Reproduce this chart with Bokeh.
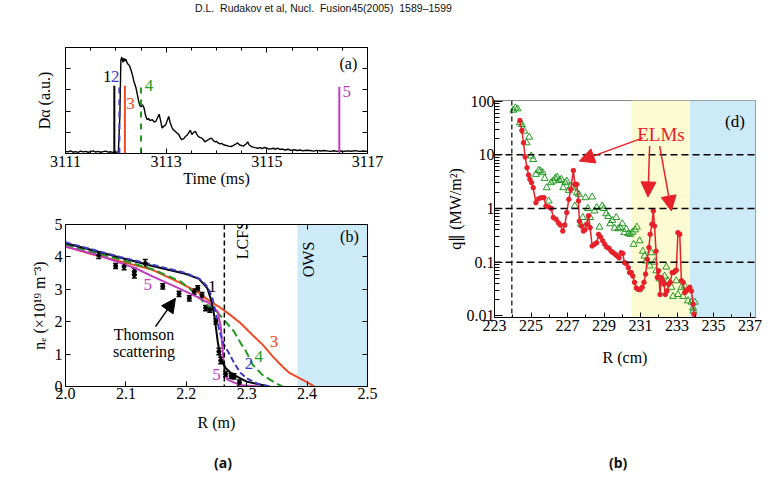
from bokeh.plotting import figure
from bokeh.models import (Range1d, LinearAxis, FixedTicker, BoxAnnotation, Span, Label,
                          Arrow, NormalHead, TeeHead, Whisker, ColumnDataSource, Div, Spacer,
                          CustomJSTickFormatter, NumeralTickFormatter)
from bokeh.layouts import column, row
from bokeh.embed import file_html
from bokeh.resources import INLINE

SERIF = "Liberation Serif, Times New Roman, serif"

# ---------------- Panel (a): D-alpha time trace ----------------
dalpha_time = [3111.00, 3111.05, 3111.10, 3111.15, 3111.20, 3111.25, 3111.30, 3111.35, 3111.40, 3111.45,
               3111.50, 3111.55, 3111.60, 3111.65, 3111.70, 3111.75, 3111.80, 3111.85, 3111.90, 3111.95,
               3112.00, 3112.05, 3112.08, 3112.10, 3112.12, 3112.14, 3112.16, 3112.18, 3112.20, 3112.23,
               3112.27, 3112.30, 3112.33, 3112.36, 3112.40, 3112.43, 3112.46, 3112.48, 3112.50, 3112.53,
               3112.56, 3112.59, 3112.62, 3112.65, 3112.68, 3112.72, 3112.76, 3112.79, 3112.83, 3112.86,
               3112.89, 3112.92, 3112.96, 3112.99, 3113.02, 3113.05, 3113.08, 3113.12, 3113.15, 3113.18,
               3113.22, 3113.25, 3113.28, 3113.31, 3113.35, 3113.38, 3113.41, 3113.44, 3113.48, 3113.51,
               3113.55, 3113.58, 3113.61, 3113.64, 3113.68, 3113.71, 3113.74, 3113.77, 3113.80, 3113.84,
               3113.87, 3113.90, 3113.94, 3113.97, 3114.00, 3114.03, 3114.07, 3114.10, 3114.13, 3114.16,
               3114.20, 3114.24, 3114.29, 3114.33, 3114.37, 3114.42, 3114.46, 3114.50, 3114.53, 3114.56,
               3114.59, 3114.62, 3114.65, 3114.69, 3114.73, 3114.77, 3114.82, 3114.87, 3114.91, 3114.95,
               3115.00, 3115.04, 3115.08, 3115.13, 3115.17, 3115.21, 3115.26, 3115.31, 3115.36, 3115.42,
               3115.48, 3115.54, 3115.60, 3115.66, 3115.72, 3115.78, 3115.86, 3115.93, 3116.00, 3116.07,
               3116.13, 3116.19, 3116.26, 3116.33, 3116.40, 3116.46, 3116.52, 3116.60, 3116.68, 3116.76,
               3116.84, 3116.92, 3117.00]
dalpha_signal = [0.020, 0.015, 0.025, 0.012, 0.018, 0.010, 0.022, 0.015, 0.020, 0.012,
                 0.018, 0.025, 0.014, 0.020, 0.012, 0.018, 0.022, 0.012, 0.016, 0.010,
                 0.012, 0.015, 0.35, 0.88, 0.91, 0.86, 0.90, 0.87, 0.89, 0.85,
                 0.83, 0.79, 0.74, 0.68, 0.62, 0.55, 0.48, 0.45, 0.44, 0.46,
                 0.43, 0.36, 0.32, 0.33, 0.31, 0.32, 0.30, 0.30, 0.34, 0.37,
                 0.31, 0.24, 0.26, 0.27, 0.31, 0.35, 0.29, 0.24, 0.22, 0.21,
                 0.19, 0.18, 0.15, 0.13, 0.14, 0.16, 0.17, 0.19, 0.22, 0.18,
                 0.20, 0.21, 0.18, 0.16, 0.15, 0.145, 0.13, 0.11, 0.12, 0.13,
                 0.14, 0.145, 0.12, 0.11, 0.115, 0.10, 0.09, 0.095, 0.085, 0.08,
                 0.075, 0.07, 0.066, 0.075, 0.085, 0.10, 0.08, 0.075, 0.07, 0.08,
                 0.09, 0.11, 0.08, 0.066, 0.06, 0.055, 0.05, 0.055, 0.045, 0.057,
                 0.05, 0.042, 0.044, 0.05, 0.04, 0.05, 0.038, 0.042, 0.033, 0.04,
                 0.03, 0.035, 0.028, 0.033, 0.025, 0.031, 0.028, 0.022, 0.03, 0.024,
                 0.028, 0.025, 0.02, 0.026, 0.02, 0.023, 0.019, 0.025, 0.021, 0.027,
                 0.02, 0.024, 0.02]
marker_times = [3111.97, 3112.07, 3112.18, 3112.50, 3116.44]
marker_top = [0.64, 0.64, 0.64, 0.64, 0.63]
marker_names = ["1", "2", "3", "4", "5"]
marker_label_t = [3111.83, 3111.99, 3112.29, 3112.66, 3116.59]
marker_label_v = [0.73, 0.73, 0.47, 0.64, 0.585]

# ---------------- Panel (b): density profiles ----------------
r_c1 = [2.00, 2.05, 2.09, 2.144, 2.20, 2.221, 2.235, 2.242, 2.247, 2.252, 2.257, 2.265, 2.276, 2.30, 2.337]
ne_c1 = [4.42, 4.18, 3.98, 3.72, 3.47, 3.32, 3.03, 2.62, 2.11, 1.39, 0.87, 0.57, 0.38, 0.15, 0.0]
r_c2 = [2.00, 2.05, 2.09, 2.144, 2.20, 2.222, 2.235, 2.243, 2.249, 2.255, 2.262, 2.27, 2.28, 2.29, 2.30, 2.32, 2.34]
ne_c2 = [4.45, 4.20, 4.00, 3.76, 3.50, 3.32, 3.08, 2.75, 2.25, 1.70, 1.30, 1.05, 0.70, 0.42, 0.25, 0.07, 0.0]
r_c3 = [2.00, 2.05, 2.09, 2.144, 2.19, 2.22, 2.24, 2.255, 2.27, 2.29, 2.31, 2.326, 2.343, 2.36, 2.37, 2.392, 2.405, 2.412]
ne_c3 = [4.32, 4.05, 3.87, 3.60, 3.20, 2.90, 2.62, 2.45, 2.25, 1.95, 1.58, 1.30, 0.93, 0.60, 0.43, 0.21, 0.08, 0.0]
r_c4 = [2.00, 2.05, 2.09, 2.144, 2.19, 2.21, 2.232, 2.25, 2.265, 2.279, 2.29, 2.299, 2.31, 2.326, 2.348, 2.359]
ne_c4 = [4.38, 4.12, 3.92, 3.62, 3.25, 2.95, 2.55, 2.32, 2.00, 1.70, 1.34, 1.08, 0.67, 0.36, 0.10, 0.0]
r_c5 = [2.00, 2.061, 2.116, 2.144, 2.188, 2.216, 2.238, 2.252, 2.257, 2.260, 2.263, 2.268, 2.288, 2.32]
ne_c5 = [4.32, 4.01, 3.65, 3.40, 3.03, 2.78, 2.57, 2.31, 1.85, 1.13, 0.51, 0.21, 0.05, 0.0]
ts_r = [2.055, 2.083, 2.097, 2.114, 2.114, 2.132, 2.161, 2.188, 2.205, 2.213, 2.219, 2.226, 2.232,
        2.239, 2.249, 2.254, 2.257, 2.265, 2.274, 2.279, 2.288]
ts_ne = [4.05, 3.72, 3.70, 3.55, 3.45, 3.80, 3.09, 2.86, 2.72, 2.93, 3.03, 2.82, 2.42,
         2.37, 2.01, 1.08, 0.80, 0.38, 0.33, 0.31, 0.12]
ts_err = [0.10, 0.08, 0.10, 0.10, 0.10, 0.12, 0.08, 0.08, 0.08, 0.08, 0.08, 0.08, 0.08,
          0.08, 0.08, 0.10, 0.10, 0.08, 0.08, 0.08, 0.08]
lcfs_r = 2.263
ows_r = 2.384

# ---------------- Panel (d): parallel heat flux ----------------
red_r = [224.39, 224.50, 224.59, 224.68, 224.78, 224.87, 224.94, 225.03, 225.12, 225.27, 225.42, 225.56,
         225.71, 225.82, 225.97, 226.11, 226.22, 226.37, 226.50, 226.61, 226.74, 226.85, 226.96, 227.07,
         227.18, 227.32, 227.41, 227.51, 227.60, 227.65, 227.76, 227.87, 227.96, 228.05, 228.15, 228.24,
         228.35, 228.48, 228.60, 228.70, 228.81, 228.93, 229.04, 229.15, 229.28, 229.39, 229.50, 229.61,
         229.72, 229.83, 229.94, 230.03, 230.12, 230.22, 230.33, 230.40, 230.49, 230.58, 230.67, 230.77,
         230.88, 230.99, 231.09, 231.19, 231.28, 231.37, 231.46, 231.53, 231.63, 231.70, 231.77, 231.85,
         231.92, 231.99, 232.07, 232.14, 232.21, 232.29, 232.36, 232.45, 232.54, 232.63, 232.73, 232.82,
         232.91, 232.96, 233.05, 233.15, 233.24, 233.33, 233.42, 233.51, 233.60, 233.70, 233.79, 233.88,
         233.93]
red_q = [43.6, 28.4, 16.8, 9.1, 5.75, 4.2, 3.49, 3.03, 2.44, 1.28, 1.52, 1.59,
         1.59, 1.11, 1.07, 1.0, 0.68, 0.63, 0.54, 0.49, 0.38, 0.49, 0.84, 1.48,
         2.27, 5.1, 2.82, 2.82, 1.38, 0.58, 0.47, 0.38, 0.40, 0.51, 0.73, 0.44,
         0.20, 0.215, 0.23, 0.33, 0.295, 0.25, 0.215, 0.19, 0.18, 0.16, 0.15, 0.14,
         0.13, 0.12, 0.15, 0.145, 0.098, 0.094, 0.079, 0.064, 0.064, 0.055, 0.042, 0.033,
         0.031, 0.031, 0.034, 0.042, 0.060, 0.113, 0.187, 0.33, 0.51, 0.90, 0.47, 0.16,
         0.052, 0.069, 0.025, 0.052, 0.045, 0.039, 0.025, 0.029, 0.039, 0.042, 0.064, 0.064,
         0.069, 0.071, 0.355, 0.33, 0.045, 0.042, 0.027, 0.029, 0.031, 0.034, 0.029, 0.0165,
         0.0107]
green_r = [224.03, 224.14, 224.26, 224.39, 224.50, 224.63, 224.76, 224.90, 225.01, 225.12, 225.27, 225.42,
           225.51, 225.64, 225.75, 225.86, 225.97, 226.10, 226.22, 226.33, 226.44, 226.55, 226.66, 226.77,
           226.88, 226.96, 227.07, 227.19, 227.29, 227.40, 227.51, 227.62, 227.73, 227.84, 227.98, 228.11,
           228.24, 228.35, 228.48, 228.60, 228.75, 228.90, 228.99, 229.12, 229.23, 229.34, 229.45, 229.58,
           229.67, 229.78, 229.89, 230.00, 230.11, 230.22, 230.33, 230.44, 230.55, 230.62, 230.70, 230.80,
           230.95, 231.13, 231.22, 231.31, 231.50, 231.59, 231.77, 231.86, 232.04, 232.22, 232.32, 232.41,
           232.50, 232.69, 232.78, 232.96, 233.05, 233.24, 233.33, 233.42, 233.60, 233.79, 233.88, 233.97,
           233.90]
green_q = [68, 75, 72, 39.5, 36.8, 27.7, 16.8, 21.4, 9.5, 8.2, 4.33, 5.13,
           4.99, 4.65, 3.64, 2.44, 1.38, 3.03, 3.25, 3.64, 3.85, 3.34, 3.49, 2.44,
           3.03, 3.25, 2.18, 2.62, 2.44, 1.11, 1.97, 1.84, 0.51, 0.68, 1.59, 1.0,
           0.68, 1.64, 0.90, 1.04, 0.45, 1.11, 1.0, 0.80, 0.71, 0.52, 0.60, 0.43,
           0.68, 0.42, 0.44, 0.52, 0.355, 0.41, 0.34, 0.33, 0.36, 0.215, 0.40, 0.45,
           0.25, 0.16, 0.13, 0.105, 0.085, 0.15, 0.10, 0.069, 0.049, 0.045, 0.055, 0.081,
           0.045, 0.034, 0.023, 0.045, 0.025, 0.034, 0.023, 0.036, 0.019, 0.018, 0.014, 0.018,
           0.0123]
sep_r = 223.95
dashed_levels = [10, 1, 0.1]
elm_zone = [230.5, 233.7]

BLACK = "#000000"
BLUE = "#3c3cc8"
RED = "#ee4a26"
GREEN = "#229a22"
MAGENTA = "#c03cc0"

EMPTY = CustomJSTickFormatter(code="return '';")


def style_axis(ax, labels=True):
    ax.axis_line_color = "black"
    ax.major_tick_in = 5
    ax.major_tick_out = 0
    ax.minor_tick_in = 3
    ax.minor_tick_out = 0
    ax.major_tick_line_color = "black"
    ax.minor_tick_line_color = "black"
    ax.major_label_text_font = SERIF
    ax.major_label_text_font_size = "16px" if labels else "1px"
    ax.major_label_text_color = "black"
    ax.axis_label_text_font = SERIF
    ax.axis_label_text_font_size = "16px"
    ax.axis_label_text_font_style = "normal"
    ax.axis_label_text_color = "black"
    if not labels:
        ax.major_label_standoff = 0
        ax.formatter = EMPTY


def lab(p, x, y, text, color="black", size="16px", angle=0.0, align="center"):
    p.add_layout(Label(x=x, y=y, text=text, text_font=SERIF, text_font_size=size,
                       text_color=color, text_align=align, text_baseline="middle", angle=angle))


# ======== Panel (a) ========
pa = figure(width=400, height=164, x_range=Range1d(3111, 3117), y_range=Range1d(0, 1),
            output_backend="svg", toolbar_location=None,
            min_border_left=64, min_border_right=30, min_border_top=16, min_border_bottom=42)
pa.grid.visible = False
pa.outline_line_color = "black"
pa.background_fill_color = "white"
a_major = [3111, 3113, 3115, 3117]
a_minor = [3111 + 0.5 * i for i in range(13)]
pa.xaxis.ticker = FixedTicker(ticks=a_major, minor_ticks=a_minor)
pa.yaxis.ticker = FixedTicker(ticks=[0.2, 0.4, 0.6, 0.8], minor_ticks=[])
style_axis(pa.xaxis[0])
style_axis(pa.yaxis[0], labels=False)
pa.xaxis.axis_label = "Time (ms)"
pa.xaxis.major_label_standoff = 2
pa.xaxis.axis_label_standoff = 0
pa.yaxis.axis_label = "Dα (a.u.)"
pa.yaxis.axis_label_standoff = 13
ta = LinearAxis(ticker=FixedTicker(ticks=a_major, minor_ticks=a_minor))
style_axis(ta, labels=False)
pa.add_layout(ta, "above")
ra = LinearAxis(ticker=FixedTicker(ticks=[0.2, 0.4, 0.6, 0.8], minor_ticks=[]))
style_axis(ra, labels=False)
pa.add_layout(ra, "right")

pa.line(dalpha_time, dalpha_signal, line_color="black", line_width=1.4)
mstyles = [(BLACK, "solid"), (BLUE, "dashed"), (RED, "solid"), (GREEN, "dashed"), (MAGENTA, "solid")]
for t, top, (c, d) in zip(marker_times, marker_top, mstyles):
    pa.segment(x0=[t], y0=[0], x1=[t], y1=[top], line_color=c, line_width=2, line_dash=d)
for name, tx, ty, (c, d) in zip(marker_names, marker_label_t, marker_label_v, mstyles):
    lab(pa, tx, ty, name, color=c, size="17px")
lab(pa, 3116.62, 0.85, "(a)", size="16px")

# ======== Panel (b) ========
pb = figure(width=400, height=240, x_range=Range1d(2.0, 2.5), y_range=Range1d(0, 5),
            output_backend="svg", toolbar_location=None,
            min_border_left=65, min_border_right=33, min_border_top=29, min_border_bottom=49)
pb.grid.visible = False
pb.outline_line_color = "black"
b_xt = [2.0, 2.1, 2.2, 2.3, 2.4, 2.5]
b_yt = [0, 1, 2, 3, 4, 5]
pb.xaxis.ticker = FixedTicker(ticks=b_xt, minor_ticks=[])
pb.yaxis.ticker = FixedTicker(ticks=b_yt, minor_ticks=[])
pb.xaxis.formatter = NumeralTickFormatter(format="0.0")
style_axis(pb.xaxis[0])
style_axis(pb.yaxis[0])
pb.xaxis.axis_label = "R (m)"
pb.xaxis.major_label_standoff = 1
pb.xaxis.axis_label_standoff = 12
pb.yaxis.axis_label = "nₑ (×10¹⁹ m⁻³)"
pb.yaxis.major_label_standoff = 3
pb.yaxis.axis_label_standoff = 4
tb = LinearAxis(ticker=FixedTicker(ticks=b_xt, minor_ticks=[]))
style_axis(tb, labels=False)
pb.add_layout(tb, "above")
rb = LinearAxis(ticker=FixedTicker(ticks=b_yt, minor_ticks=[]))
style_axis(rb, labels=False)
pb.add_layout(rb, "right")

pb.add_layout(BoxAnnotation(left=ows_r, right=2.5, fill_color="#cdeaf8", fill_alpha=1.0,
                            line_alpha=0, level="underlay"))
pb.add_layout(Span(location=lcfs_r, dimension="height", line_color="black",
                   line_width=1.5, line_dash="5 3"))
pb.line(r_c3, ne_c3, line_color=RED, line_width=2)
pb.line(r_c4, ne_c4, line_color=GREEN, line_width=2, line_dash="8 4")
pb.line(r_c5, ne_c5, line_color=MAGENTA, line_width=2)
pb.line(r_c1, ne_c1, line_color=BLACK, line_width=2)
pb.line(r_c2, ne_c2, line_color=BLUE, line_width=2, line_dash="6 3")
ts_src = ColumnDataSource(dict(x=ts_r, y=ts_ne,
                               lower=[n - e for n, e in zip(ts_ne, ts_err)],
                               upper=[n + e for n, e in zip(ts_ne, ts_err)]))
pb.add_layout(Whisker(base="x", lower="lower", upper="upper", source=ts_src,
                      line_color="black", line_width=1.5,
                      lower_head=TeeHead(size=5, line_color="black", line_width=1.5),
                      upper_head=TeeHead(size=5, line_color="black", line_width=1.5)))
pb.scatter("x", "y", source=ts_src, size=4, color="black")
pb.add_layout(Arrow(end=NormalHead(size=14, fill_color="black", line_color="black"),
                    x_start=2.149, y_start=1.85, x_end=2.182, y_end=2.72,
                    line_color="black", line_width=1.5))
lab(pb, 2.130, 1.59, "Thomson")
lab(pb, 2.130, 1.08, "scattering")
lab(pb, 2.293, 4.52, "LCFS", angle=1.5708)
lab(pb, 2.402, 3.92, "OWS", angle=1.5708)
lab(pb, 2.470, 4.63, "(b)")
lab(pb, 2.243, 3.09, "1", color=BLACK, size="17px")
lab(pb, 2.304, 0.72, "2", color=BLUE, size="17px")
lab(pb, 2.345, 1.40, "3", color=RED, size="17px")
lab(pb, 2.320, 0.93, "4", color=GREEN, size="17px")
lab(pb, 2.136, 3.14, "5", color=MAGENTA, size="17px")
lab(pb, 2.250, 0.36, "5", color=MAGENTA, size="17px")

# ======== Panel (d) ========
pd_ = figure(width=368, height=342, x_range=Range1d(223, 237.3), y_range=Range1d(0.0093, 103),
             y_axis_type="log", output_backend="svg", toolbar_location=None,
             min_border_left=94, min_border_right=13, min_border_top=69, min_border_bottom=56)
pd_.grid.visible = False
pd_.outline_line_color = "#888888"
d_major = [0.01, 0.1, 1, 10, 100]
d_minor = [m * 10.0 ** k for k in range(-2, 2) for m in range(2, 10)]
pd_.yaxis.ticker = FixedTicker(ticks=d_major, minor_ticks=d_minor)
pd_.yaxis.formatter = CustomJSTickFormatter(code="""
const e = Math.round(Math.log10(tick));
if (e >= 0) { return String(Math.round(Math.pow(10, e))); }
return Math.pow(10, e).toFixed(-e);
""")
pd_.xaxis.ticker = FixedTicker(ticks=[223, 225, 227, 229, 231, 233, 235, 237],
                               minor_ticks=list(range(223, 238)))
style_axis(pd_.xaxis[0])
style_axis(pd_.yaxis[0])
pd_.yaxis.major_tick_in = 8
pd_.yaxis.minor_tick_in = 5
pd_.xaxis.axis_label = "R (cm)"
pd_.xaxis.major_label_standoff = 2
pd_.xaxis.axis_label_standoff = 15
pd_.yaxis.axis_label = "q∥ (MW/m²)"
pd_.yaxis.major_label_standoff = 0
pd_.yaxis.axis_label_standoff = 0

pd_.add_layout(BoxAnnotation(left=elm_zone[0], right=elm_zone[1], fill_color="#fdfbd2",
                             fill_alpha=1.0, line_alpha=0, level="underlay"))
pd_.add_layout(BoxAnnotation(left=elm_zone[1], right=237.3, fill_color="#cdeaf8",
                             fill_alpha=1.0, line_alpha=0, level="underlay"))
for lev in dashed_levels:
    pd_.add_layout(Span(location=lev, dimension="width", line_color="black",
                        line_width=1.5, line_dash="7 4"))
pd_.add_layout(Span(location=sep_r, dimension="height", line_color="black",
                    line_width=1.2, line_dash="5 3"))
pd_.scatter(green_r, green_q, marker="triangle", size=7, fill_color=None,
            line_color=GREEN, line_width=1)
pd_.line(red_r, red_q, line_color="#e8202a", line_width=1.5)
pd_.scatter(red_r, red_q, marker="circle", size=4.5, color="#e8202a")
for xs, ys, xe, ye in [(231.13, 20.7, 227.65, 7.65), (231.50, 14.6, 231.41, 1.64),
                       (232.05, 14.6, 232.69, 0.9)]:
    pd_.add_layout(Arrow(end=NormalHead(size=15, fill_color="#e8202a", line_color="#e8202a"),
                         x_start=xs, y_start=ys, x_end=xe, y_end=ye,
                         line_color="#e8202a", line_width=1.5))
lab(pd_, 232.12, 24.3, "ELMs", color="#e8202a", size="19px")
lab(pd_, 236.17, 42.5, "(d)", size="17px")

# ======== Page texts ========
title = Div(text="<div style=\"padding-left:195px; "
                 "font-family:'Liberation Sans Narrow','Liberation Sans',sans-serif; "
                 "font-size:10.5px; line-height:12px; color:#111; white-space:pre\">"
                 "D.L.  Rudakov et al, Nucl.  Fusion45(2005)  1589–1599</div>",
            width=768, height=22, margin=0)
gap = Spacer(width=10, height=9, margin=0)
div_a = Div(text="<div style=\"padding-left:214px; padding-top:20px; "
                 "font-family:'Noto Sans',sans-serif; "
                 "font-weight:bold; font-size:14px; line-height:16px; color:#111\">(a)</div>",
            width=400, height=38, margin=0)
div_b = Div(text="<div style=\"padding-left:209px; padding-top:82px; "
                 "font-family:'Noto Sans',sans-serif; "
                 "font-weight:bold; font-size:14px; line-height:16px; color:#111\">(b)</div>",
            width=368, height=100, margin=0)

layout = column(title, gap, row(column(pa, pb, div_a), column(pd_, div_b)))

open("out.html", "w").write(file_html(layout, INLINE))
